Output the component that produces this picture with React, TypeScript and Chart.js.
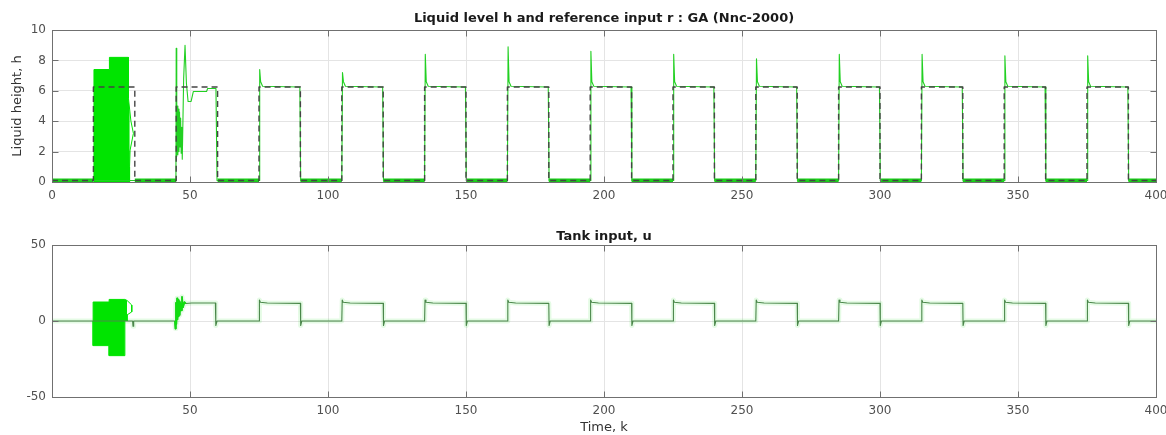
import React, { useEffect, useRef } from 'react';
import { Chart, registerables } from 'chart.js';

Chart.register(...registerables);

const FONT = "'DejaVu Sans', 'Liberation Sans', sans-serif";

// ---- axes ----
const TIME_TICKS = [0, 50, 100, 150, 200, 250, 300, 350, 400];
const H_TICKS = [0, 2, 4, 6, 8, 10];
const U_TICKS = [-50, 0, 50];

// ---- reference input r (step edges and levels) ----
const REF_EDGES = [0, 15, 30, 45, 60, 75, 90, 105, 120, 135, 150, 165, 180, 195, 210, 225, 240, 255, 270, 285, 300, 315, 330, 345, 360, 375, 390, 400];
const REF_LEVELS = [0.1, 6.25, 0.1, 6.25, 0.1, 6.25, 0.1, 6.25, 0.1, 6.25, 0.1, 6.25, 0.1, 6.25, 0.1, 6.25, 0.1, 6.25, 0.1, 6.25, 0.1, 6.25, 0.1, 6.25, 0.1, 6.25, 0.1];
const REF_LOW = 0.1;

// ---- liquid level h ----
const H_BURST_X = [15.2, 15.2, 20.8, 20.8, 27.7, 27.7, 28.6, 29.5, 28.3, 28.1, 28.1];
const H_BURST_Y = [0, 7.4, 7.4, 8.2, 8.2, 5.5, 4.0, 3.2, 2.1, 1.0, 0];
const H_START_X = [0, 44.9, 45.0, 45.2, 45.4, 45.6, 45.8, 46.0, 46.2, 46.4, 46.6, 46.8, 47.0, 47.2, 47.7, 48.2, 48.7, 49.3, 50.4, 51.2, 56.0, 56.4, 59.4, 59.8];
const H_START_Y = [0.1, 0.1, 8.8, 1.7, 5.0, 1.8, 4.8, 2.0, 4.6, 2.3, 4.2, 1.9, 3.6, 1.5, 6.8, 9.0, 6.5, 5.3, 5.3, 5.95, 5.95, 6.15, 6.15, 0.1];
const H_RISE = [75, 105, 135, 165, 195, 225, 255, 285, 315, 345, 375];
const H_PEAKS = [7.4, 7.2, 8.4, 8.9, 8.6, 8.4, 8.1, 8.4, 8.4, 8.3, 8.3];
const H_SETTLE = [6.6, 6.3, 6.25];

// ---- tank input u ----
const U_BURST_UP_X = [14.9, 14.9, 20.7, 20.7, 26.4, 27.2, 28.9, 28.9, 27.2, 27.2];
const U_BURST_UP_Y = [0, 12.5, 12.5, 14.2, 14.2, 13.5, 10.5, 6, 4, 0];
const U_BURST_LO_X = [14.9, 14.9, 20.7, 20.7, 26.4, 26.4];
const U_BURST_LO_Y = [0, -16.2, -16.2, -22.8, -22.8, 0];
const U_START_X = [0, 29.2, 29.35, 29.6, 44.5, 44.7, 44.9, 45.1, 45.3, 45.5, 45.7, 45.9, 46.1, 46.3, 46.5, 46.8, 47.1, 47.5, 48.0, 48.5, 50.6, 59.2, 59.35, 59.8];
const U_START_Y = [0, 0, -3.5, 0, 0, -5, 12, -2, 15, 1, 14, 3, 13, 4, 12, 7, 16, 9, 12.5, 11.5, 11.8, 11.8, -3, 0];
const U_RISE = [75, 105, 135, 165, 195, 225, 255, 285, 315, 345, 375];
const U_CYCLE = [13.8, 12.3, 11.8, 11.6, -3];

// ---------------------------------------------------------------
type P = { x: number; y: number | null };
const zipPts = (xs: number[], ys: number[]): P[] => xs.map((x, i) => ({ x, y: ys[i] }));

function refPoints(): P[] {
  const pts: P[] = REF_LEVELS.map((v, i) => ({ x: REF_EDGES[i], y: v }));
  pts.push({ x: REF_EDGES[REF_EDGES.length - 1], y: REF_LEVELS[REF_LEVELS.length - 1] });
  return pts;
}

function lowBandPoints(): P[] {
  const pts: P[] = [];
  REF_LEVELS.forEach((v, i) => {
    if (v === REF_LOW) {
      pts.push({ x: REF_EDGES[i], y: v }, { x: REF_EDGES[i + 1], y: v }, { x: REF_EDGES[i + 1] + 0.01, y: null });
    }
  });
  return pts;
}

function hTrace(): P[] {
  const pts = zipPts(H_START_X, H_START_Y);
  H_RISE.forEach((t, i) => {
    pts.push(
      { x: t, y: REF_LOW },
      { x: t + 0.25, y: H_PEAKS[i] },
      { x: t + 0.6, y: H_SETTLE[0] },
      { x: t + 1.3, y: H_SETTLE[1] },
      { x: t + 14.8, y: H_SETTLE[2] },
      { x: t + 15.1, y: REF_LOW }
    );
  });
  pts.push({ x: 400, y: REF_LOW });
  return pts;
}

function uTrace(): P[] {
  const pts = zipPts(U_START_X, U_START_Y);
  U_RISE.forEach((t) => {
    pts.push(
      { x: t, y: 0 },
      { x: t + 0.15, y: U_CYCLE[0] },
      { x: t + 0.5, y: U_CYCLE[1] },
      { x: t + 3, y: U_CYCLE[2] },
      { x: t + 15, y: U_CYCLE[3] },
      { x: t + 15.1, y: U_CYCLE[4] },
      { x: t + 15.5, y: 0 }
    );
  });
  pts.push({ x: 400, y: 0 });
  return pts;
}

const boxPlugin = {
  id: 'matlabBox',
  afterDraw(chart: any) {
    const { ctx, chartArea: a, scales } = chart;
    const xs = scales.x;
    const ys = scales.y;
    ctx.save();
    ctx.strokeStyle = '#707070';
    ctx.lineWidth = 1;
    const L = Math.round(a.left) + 0.5;
    const T = Math.round(a.top) + 0.5;
    const R = Math.round(a.right) + 0.5;
    const B = Math.round(a.bottom) + 0.5;
    ctx.strokeRect(L, T, R - L, B - T);
    ctx.beginPath();
    xs.ticks.forEach((t: any) => {
      const px = Math.round(xs.getPixelForValue(t.value)) + 0.5;
      ctx.moveTo(px, T);
      ctx.lineTo(px, T + 6);
      ctx.moveTo(px, B);
      ctx.lineTo(px, B - 6);
    });
    ys.ticks.forEach((t: any) => {
      const py = Math.round(ys.getPixelForValue(t.value)) + 0.5;
      ctx.moveTo(L, py);
      ctx.lineTo(L + 6, py);
      ctx.moveTo(R, py);
      ctx.lineTo(R - 6, py);
    });
    ctx.stroke();
    ctx.restore();
  },
};

const GRID = '#e4e4e4';
const TICK_COLOR = '#505050';

function xScale(hideZero: boolean, height: number, withTitle: boolean) {
  return {
    type: 'linear',
    min: 0,
    max: 400,
    afterBuildTicks: (s: any) => {
      s.ticks = TIME_TICKS.map((v) => ({ value: v }));
    },
    afterFit: (s: any) => {
      s.height = height;
    },
    ticks: {
      color: TICK_COLOR,
      font: { family: FONT, size: 12 },
      padding: 7,
      maxRotation: 0,
      autoSkip: false,
      callback: (v: any) => (hideZero && v === 0 ? '' : String(v)),
    },
    grid: { color: GRID, drawTicks: false },
    border: { display: false },
    title: withTitle
      ? { display: true, text: 'Time, k', color: '#333', font: { family: FONT, size: 13 }, padding: { top: 0, bottom: 0 } }
      : { display: false },
  };
}

function yScale(min: number, max: number, ticks: number[], title: string | null) {
  return {
    type: 'linear',
    min,
    max,
    afterBuildTicks: (s: any) => {
      s.ticks = ticks.map((v) => ({ value: v }));
    },
    afterFit: (s: any) => {
      s.width = 52;
    },
    ticks: { color: TICK_COLOR, font: { family: FONT, size: 12 }, padding: 6 },
    grid: { color: GRID, drawTicks: false },
    border: { display: false },
    title: title
      ? { display: true, text: title, color: '#333', font: { family: FONT, size: 13 }, padding: { top: 10, bottom: 0 } }
      : { display: false },
  };
}

function titleOpts(text: string, top: number, bottom: number) {
  return {
    display: true,
    text,
    fullSize: false,
    color: '#1a1a1a',
    font: { family: FONT, size: 13, weight: 'bold' },
    padding: { top, bottom },
  };
}

export default function App() {
  const topRef = useRef<HTMLCanvasElement>(null);
  const botRef = useRef<HTMLCanvasElement>(null);

  useEffect(() => {
    const common = {
      animation: false,
      responsive: false,
      elements: { point: { radius: 0 }, line: { tension: 0, borderJoinStyle: 'round' } },
    };

    const top = new Chart(topRef.current as HTMLCanvasElement, {
      type: 'line',
      data: {
        datasets: [
          {
            label: 'r',
            data: refPoints(),
            stepped: 'before',
            borderColor: '#444',
            borderWidth: 1.4,
            borderDash: [6, 4],
            order: 0,
          },
          {
            label: 'h',
            data: hTrace(),
            borderColor: '#22d022',
            borderWidth: 1.1,
            order: 1,
          },
          {
            label: 'h low band',
            data: lowBandPoints(),
            borderColor: '#16d016',
            borderWidth: 4,
            spanGaps: false,
            order: 2,
          },
          {
            label: 'h burst',
            data: zipPts(H_BURST_X, H_BURST_Y),
            borderColor: '#00e400',
            backgroundColor: '#00e400',
            borderWidth: 1,
            fill: 'origin',
            order: 3,
          },
        ],
      } as any,
      options: {
        ...common,
        layout: { padding: { left: 0, right: 24, top: 0, bottom: 0 } },
        plugins: {
          legend: { display: false },
          tooltip: { enabled: false },
          title: titleOpts('Liquid level h and reference input r : GA (Nnc-2000)', 11, 3.4),
        },
        scales: {
          x: xScale(false, 24, false),
          y: yScale(0, 10, H_TICKS, 'Liquid height, h'),
        },
      } as any,
      plugins: [boxPlugin],
    });

    const bot = new Chart(botRef.current as HTMLCanvasElement, {
      type: 'line',
      data: {
        datasets: [
          {
            label: 'u',
            data: uTrace(),
            borderColor: '#4a874a',
            borderWidth: 1.1,
            order: 1,
          },
          {
            label: 'u halo',
            data: uTrace(),
            borderColor: 'rgba(0,220,0,0.10)',
            borderWidth: 5,
            borderJoinStyle: 'round',
            borderCapStyle: 'round',
            order: 4,
          },
          {
            label: 'u start',
            data: zipPts(U_START_X.slice(4, 20), U_START_Y.slice(4, 20)),
            borderColor: '#10dd10',
            borderWidth: 1.6,
            order: 0,
          },
          {
            label: 'u burst upper',
            data: zipPts(U_BURST_UP_X, U_BURST_UP_Y),
            borderColor: '#00e400',
            backgroundColor: '#00e400',
            borderWidth: 1,
            fill: 'origin',
            order: 2,
          },
          {
            label: 'u burst lower',
            data: zipPts(U_BURST_LO_X, U_BURST_LO_Y),
            borderColor: '#00e400',
            backgroundColor: '#00e400',
            borderWidth: 1,
            fill: 'origin',
            order: 2,
          },
        ],
      } as any,
      options: {
        ...common,
        layout: { padding: { left: 0, right: 24, top: 0, bottom: 0 } },
        plugins: {
          legend: { display: false },
          tooltip: { enabled: false },
          title: titleOpts('Tank input, u', 23.2, 0.2),
        },
        scales: {
          x: xScale(true, 38, true),
          y: yScale(-50, 50, U_TICKS, null),
        },
      } as any,
      plugins: [boxPlugin],
    });

    return () => {
      top.destroy();
      bot.destroy();
    };
  }, []);

  return (
    <div
      style={{
        position: 'fixed',
        left: 0,
        top: 0,
        width: 1166,
        height: 435,
        overflow: 'hidden',
        background: '#fff',
      }}
    >
      <canvas ref={topRef} width={1180} height={206} style={{ position: 'absolute', left: 0, top: 0 }} />
      <canvas ref={botRef} width={1180} height={229} style={{ position: 'absolute', left: 0, top: 206 }} />
    </div>
  );
}
